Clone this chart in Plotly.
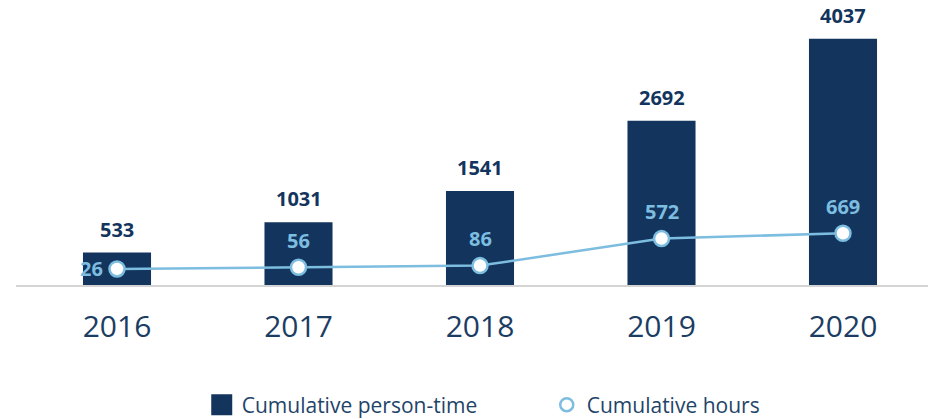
import plotly.graph_objects as go

years = [2016, 2017, 2018, 2019, 2020]
person_time = [533, 1031, 1541, 2692, 4037]
hours = [26, 56, 86, 572, 669]
tick_labels = ["2016", "2017", "2018", "2019", "2020"]

NAVY = "#13355d"
LIGHT = "#7dbde0"
FONT = "Open Sans"

fig = go.Figure()
fig.add_trace(go.Bar(x=years, y=person_time, width=0.375, marker=dict(color=NAVY, line=dict(width=0)),
                     showlegend=False, hoverinfo="skip"))
fig.add_trace(go.Scatter(x=years, y=hours, yaxis="y2", mode="lines+markers",
                         line=dict(color=LIGHT, width=2.5),
                         marker=dict(size=15, color="white", line=dict(color=LIGHT, width=2.5)),
                         showlegend=False, hoverinfo="skip"))
# legend entries
fig.add_trace(go.Scatter(x=[None], y=[None], mode="markers", name="Cumulative person-time",
                         marker=dict(symbol="square", size=16, color=NAVY, line=dict(color=NAVY, width=5))))
fig.add_trace(go.Scatter(x=[None], y=[None], mode="markers", name="Cumulative hours",
                         marker=dict(symbol="circle-open", size=13, color=LIGHT, line=dict(width=2.5))))

for x, v in zip(years, person_time):
    fig.add_annotation(x=x, y=v, text=f"<b>{v}</b>", showarrow=False, yanchor="bottom", yshift=8,
                       font=dict(family=FONT, size=20, color=NAVY))
for i, (x, v) in enumerate(zip(years, hours)):
    if i == 0:
        fig.add_annotation(x=x, y=v, yref="y2", text=f"<b>{v}</b>", showarrow=False,
                           xanchor="right", xshift=-12, font=dict(family=FONT, size=20, color=LIGHT))
    else:
        fig.add_annotation(x=x, y=v, yref="y2", text=f"<b>{v}</b>", showarrow=False,
                           yanchor="middle", yshift=27, font=dict(family=FONT, size=20, color=LIGHT))

fig.update_layout(
    width=928, height=419,
    margin=dict(l=16, r=0, t=20, b=134),
    paper_bgcolor="white", plot_bgcolor="white",
    font=dict(family=FONT),
    xaxis=dict(range=[2015.4435, 2016 + (928 - 117) / 181.5], tickvals=years, ticktext=tick_labels,
               showgrid=False, zeroline=False, showline=True, linecolor="#d4d4d4", linewidth=2,
               ticks="", tickfont=dict(family=FONT, size=30, color="#1b3d63"), ticklabelstandoff=14),
    yaxis=dict(range=[0, 4346], visible=False, showgrid=False, zeroline=False),
    yaxis2=dict(range=[-263, 4507], overlaying="y", visible=False, showgrid=False, zeroline=False),
    legend=dict(orientation="h", x=189 / 928, xanchor="left", y=1 - 405 / 419, yref="container",
                yanchor="middle", entrywidth=300, font=dict(family=FONT, size=21, color="#1f4468"),
                itemsizing="trace", bgcolor="rgba(0,0,0,0)"),
)

fig.write_html("out.html", config={"displayModeBar": False},
               post_script="document.body.style.margin='0';")
